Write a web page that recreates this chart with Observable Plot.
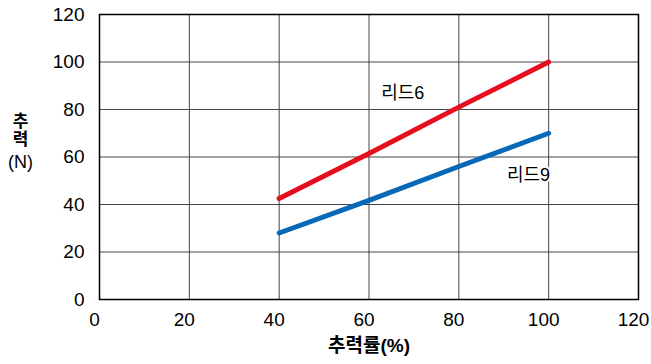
<!DOCTYPE html>
<html><head><meta charset="utf-8">
<script src="https://cdn.jsdelivr.net/npm/d3@7"></script>
<script src="https://cdn.jsdelivr.net/npm/@observablehq/plot@0.6"></script>
<style>body{margin:0;background:#fff}</style>
</head><body><div id="chart"></div>
<script>
const thrustRate = [40, 60, 80, 100];
const lead6 = [42.5, 61.5, 81, 100];
const lead9 = [28, 41.7, 56, 70];
const labels = [{x: 67.5, y: 87, t: "리드6"}, {x: 95.5, y: 52.5, t: "리드9"}];
const ticks = [0, 20, 40, 60, 80, 100, 120];

const d6 = thrustRate.map((x, i) => ({x, y: lead6[i]}));
const d9 = thrustRate.map((x, i) => ({x, y: lead9[i]}));

const chart = Plot.plot({
  width: 651, height: 364,
  marginLeft: 99, marginTop: 14, marginRight: 13, marginBottom: 65,
  style: {fontFamily: "'Liberation Sans', Arial, 'Noto Sans CJK KR', sans-serif", fontSize: "19px", color: "#000", background: "#fff"},
  x: {domain: [0, 120], ticks: ticks, label: null},
  y: {domain: [0, 120], ticks: ticks, label: null},
  marks: [
    Plot.gridX(ticks, {stroke: "#444", strokeOpacity: 1, strokeWidth: 1}),
    Plot.gridY(ticks, {stroke: "#444", strokeOpacity: 1, strokeWidth: 1}),
    Plot.frame({stroke: "#000", strokeWidth: 1.5}),
    Plot.axisX(ticks, {tickSize: 0, tickPadding: 13, fontSize: 19, dx: -5}),
    Plot.axisY(ticks, {tickSize: 0, tickPadding: 15, fontSize: 19}),
    Plot.line(d6, {x: "x", y: "y", stroke: "#e60f1e", strokeWidth: 5}),
    Plot.line(d9, {x: "x", y: "y", stroke: "#0868b8", strokeWidth: 5}),
    Plot.text(labels, {x: "x", y: "y", text: "t", fontSize: 18, fill: "#000", stroke: "#fff", strokeWidth: 4}),
    Plot.text(["추\n력"], {frameAnchor: "left", dx: -79, dy: -27, text: d => d, fontSize: 17, fontWeight: "bold", lineHeight: 1.05, textAnchor: "middle"}),
    Plot.text(["(N)"], {frameAnchor: "left", dx: -79, dy: 5, text: d => d, fontSize: 18, textAnchor: "middle"}),
    Plot.text(["추력률(%)"], {frameAnchor: "bottom", dy: 52, text: d => d, fontSize: 19, fontWeight: "bold"})
  ]
});
document.getElementById("chart").appendChild(chart);
</script></body></html>
